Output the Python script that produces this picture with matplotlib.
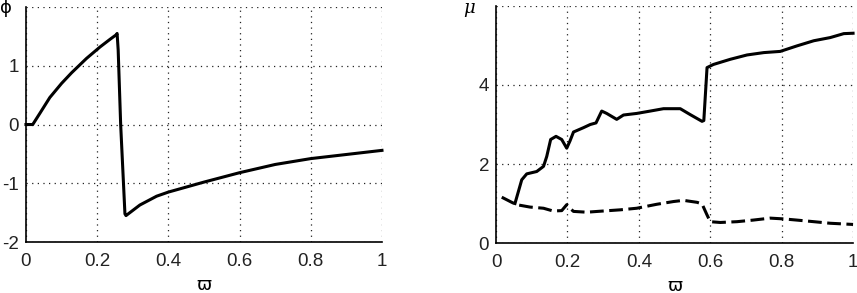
import matplotlib
matplotlib.use("Agg")
import matplotlib.pyplot as plt

# Left panel: phi vs varpi
phi_x = [0.0, 0.019, 0.04, 0.067, 0.1, 0.128, 0.17, 0.208, 0.236, 0.254, 0.256, 0.259, 0.266, 0.278, 0.281,
         0.32, 0.367, 0.4, 0.5, 0.6, 0.7, 0.8, 0.9, 1.0]
phi_y = [0.0, 0.0, 0.2, 0.46, 0.7, 0.88, 1.125, 1.32, 1.45, 1.53, 1.55, 1.27, 0.0, -1.52, -1.55,
         -1.37, -1.22, -1.15, -0.98, -0.82, -0.68, -0.58, -0.51, -0.44]

# Right panel: mu vs varpi (solid and dashed)
mu1_x = [0.053, 0.072, 0.086, 0.114, 0.133, 0.142, 0.153, 0.168, 0.184, 0.198, 0.207, 0.217,
         0.245, 0.264, 0.28, 0.296, 0.31, 0.338, 0.357, 0.394, 0.432, 0.469, 0.516, 0.544,
         0.577, 0.582, 0.591, 0.609, 0.656, 0.703, 0.75, 0.796, 0.843, 0.89, 0.936, 0.974, 1.0]
mu1_y = [1.0, 1.6, 1.75, 1.81, 1.94, 2.19, 2.62, 2.7, 2.62, 2.4, 2.58, 2.81,
         2.92, 3.0, 3.04, 3.34, 3.28, 3.13, 3.24, 3.28, 3.34, 3.4, 3.4, 3.25,
         3.08, 3.1, 4.44, 4.52, 4.65, 4.76, 4.82, 4.85, 4.99, 5.12, 5.2, 5.3, 5.31]
mu2_x = [0.016, 0.044, 0.058, 0.095, 0.133, 0.16, 0.184, 0.198, 0.207, 0.217, 0.254, 0.3,
         0.348, 0.394, 0.45, 0.497, 0.525, 0.563, 0.577, 0.591, 0.6, 0.628, 0.675, 0.72,
         0.768, 0.806, 0.843, 0.89, 0.936, 1.0]
mu2_y = [1.16, 1.03, 0.97, 0.91, 0.88, 0.81, 0.82, 0.97, 0.88, 0.8, 0.78, 0.81,
         0.84, 0.88, 0.98, 1.05, 1.08, 1.03, 0.99, 0.71, 0.54, 0.52, 0.54, 0.58,
         0.63, 0.61, 0.58, 0.54, 0.5, 0.47]

x_ticks = [0, 0.2, 0.4, 0.6, 0.8, 1.0]
x_labels = ["0", "0.2", "0.4", "0.6", "0.8", "1"]
phi_ticks = [-2, -1, 0, 1, 2]
phi_labels = ["-2", "-1", "0", "1", ""]
mu_ticks = [0, 2, 4, 6]
mu_labels = ["0", "2", "4", ""]

plt.rcParams['font.family'] = ['Liberation Sans', 'DejaVu Sans']

fig = plt.figure(figsize=(8.57, 2.93), dpi=100)
ax1 = fig.add_axes([0.0303, 0.174, 0.4154, 0.802])
ax2 = fig.add_axes([0.5788, 0.1706, 0.4166, 0.809])

def style(ax, yt, yl, ylim):
    ax.set_xlim(0, 1)
    ax.set_ylim(*ylim)
    ax.set_xticks(x_ticks)
    ax.set_xticklabels(x_labels)
    ax.set_yticks(yt)
    ax.set_yticklabels(yl)
    ax.tick_params(length=0, labelsize=13.5, labelcolor='#222222', pad=5)
    ax.tick_params(axis='x', pad=8)
    for s in ['top', 'right']:
        ax.spines[s].set_visible(False)
    for s in ['left', 'bottom']:
        ax.spines[s].set_linewidth(1.2)
    ax.grid(True, color='#222222', linestyle=(0, (1, 3.5)), linewidth=0.9)
    ax.set_axisbelow(True)

style(ax1, phi_ticks, phi_labels, (-2, 2))
style(ax2, mu_ticks, mu_labels, (0, 6))

ax1.plot(phi_x, phi_y, color='black', linewidth=2.2, clip_on=False)
ax2.plot(mu1_x, mu1_y, color='black', linewidth=2.2, clip_on=False)
ax2.plot(mu2_x, mu2_y, color='black', linewidth=2.2, linestyle=(0, (4.5, 1.8)), clip_on=False)

ax1.set_xlabel("ϖ", fontsize=13, family=['DejaVu Sans'], labelpad=4)
ax2.set_xlabel("ϖ", fontsize=13, family=['DejaVu Sans'], labelpad=4)
fig.text(6 / 857, 1 - 8 / 293, "ϕ", fontsize=13, family=['DejaVu Sans'], ha='center', va='center')
fig.text(469 / 857, 1 - 8 / 293, "μ", fontsize=13, family=['DejaVu Serif'], style='italic',
         ha='center', va='center')

fig.savefig("out.png", dpi=100)
